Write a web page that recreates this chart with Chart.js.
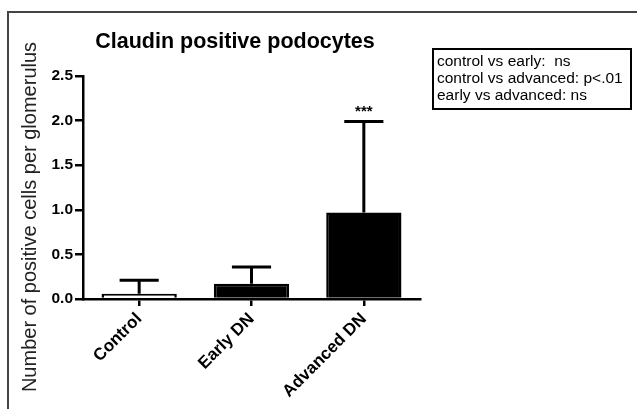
<!DOCTYPE html>
<html>
<head>
<meta charset="utf-8">
<script src="https://cdn.jsdelivr.net/npm/chart.js@4/dist/chart.umd.min.js"></script>
<style>
  body { margin: 0; background: #fff; }
  #wrap { position: relative; width: 637px; height: 409px; overflow: hidden; }
  #frame { position: absolute; left: 7px; top: 11px; width: 640px; height: 410px;
           border-top: 2px solid #444; border-left: 2px solid #444; }
  #stats { position: absolute; left: 432px; top: 48px; width: 193px; height: 56px;
           border: 2px solid #000; padding: 2px 0 0 3px;
           font: 15.5px "Liberation Sans", Arial, sans-serif; line-height: 17px; color: #000; }
  canvas { position: absolute; left: 0; top: 0; }
</style>
</head>
<body>
<div id="wrap">
  <div id="frame"></div>
  <canvas id="grafico" width="637" height="409"></canvas>
  <div id="stats">control vs early:&nbsp; ns<br>control vs advanced: p&lt;.01<br>early vs advanced: ns</div>
</div>
<script>
const categorias = ["Control", "Early DN", "Advanced DN"];
const medias = [0.06, 0.17, 0.97];
const errores = [0.15, 0.19, 1.02];
const colores = ["#ffffff", "#000000", "#000000"];
const ticksY = [0, 0.5, 1.0, 1.5, 2.0, 2.5];
const significancia = ["", "", "***"];

const fuente = '"Liberation Sans", Arial, sans-serif';

// barras de error, asteriscos y titulos
const extras = {
    id: 'extras',
    afterDatasetsDraw(chart) {
        const { ctx, scales: { x, y } } = chart;
        const barras = chart.getDatasetMeta(0).data;
        ctx.save();
        ctx.strokeStyle = '#000';
        ctx.lineWidth = 3;
        categorias.forEach((c, i) => {
            const px = x.getPixelForValue(i);
            const base = y.getPixelForValue(medias[i]);
            const tope = y.getPixelForValue(medias[i] + errores[i]);
            const cap = barras[i].width * 0.26;
            ctx.beginPath();
            ctx.moveTo(px, base);
            ctx.lineTo(px, tope);
            ctx.moveTo(px - cap, tope);
            ctx.lineTo(px + cap, tope);
            ctx.stroke();
            if (significancia[i]) {
                ctx.fillStyle = '#000';
                ctx.font = 'bold 15px ' + fuente;
                ctx.textAlign = 'center';
                ctx.textBaseline = 'bottom';
                ctx.fillText(significancia[i], px, tope - 2);
            }
        });

        ctx.fillStyle = '#000';
        ctx.font = 'bold 21.5px ' + fuente;
        ctx.textAlign = 'center';
        ctx.textBaseline = 'middle';
        ctx.fillText("Claudin positive podocytes", 235, 42);

        ctx.translate(30, 217);
        ctx.rotate(-Math.PI / 2);
        ctx.font = '20px ' + fuente;
        ctx.fillStyle = '#222';
        ctx.fillText("Number of positive cells per glomerulus", 0, 0);
        ctx.restore();
    }
};

const ctx = document.getElementById('grafico').getContext('2d');
new Chart(ctx, {
    type: 'bar',
    data: {
        labels: categorias,
        datasets: [{
            data: medias,
            backgroundColor: colores,
            borderColor: '#000',
            borderWidth: 2.5,
            categoryPercentage: 1,
            barPercentage: 0.67
        }]
    },
    options: {
        responsive: false,
        animation: false,
        layout: { padding: { left: 23, top: 76, right: 217, bottom: 0 } },
        plugins: { legend: { display: false }, tooltip: { enabled: false } },
        scales: {
            x: {
                afterFit: s => { s.height = 110; },
                grid: { drawOnChartArea: false, offset: false, tickLength: 7, color: '#000', lineWidth: 2.5 },
                border: { color: '#000', width: 2.5 },
                ticks: {
                    color: '#000', minRotation: 45, maxRotation: 45, padding: 3,
                    font: { family: fuente, size: 17, weight: 'bold' }
                }
            },
            y: {
                min: 0,
                max: 2.5,
                afterFit: s => { s.width = 60; },
                afterBuildTicks: s => { s.ticks = ticksY.map(v => ({ value: v })); },
                grid: { drawOnChartArea: false, tickLength: 8, color: '#000', lineWidth: 2.5 },
                border: { color: '#000', width: 2.5 },
                ticks: {
                    color: '#000', padding: 2,
                    font: { family: fuente, size: 15.5, weight: 'bold' },
                    callback: v => Number(v).toFixed(1)
                }
            }
        }
    },
    plugins: [extras]
});
</script>
</body>
</html>
